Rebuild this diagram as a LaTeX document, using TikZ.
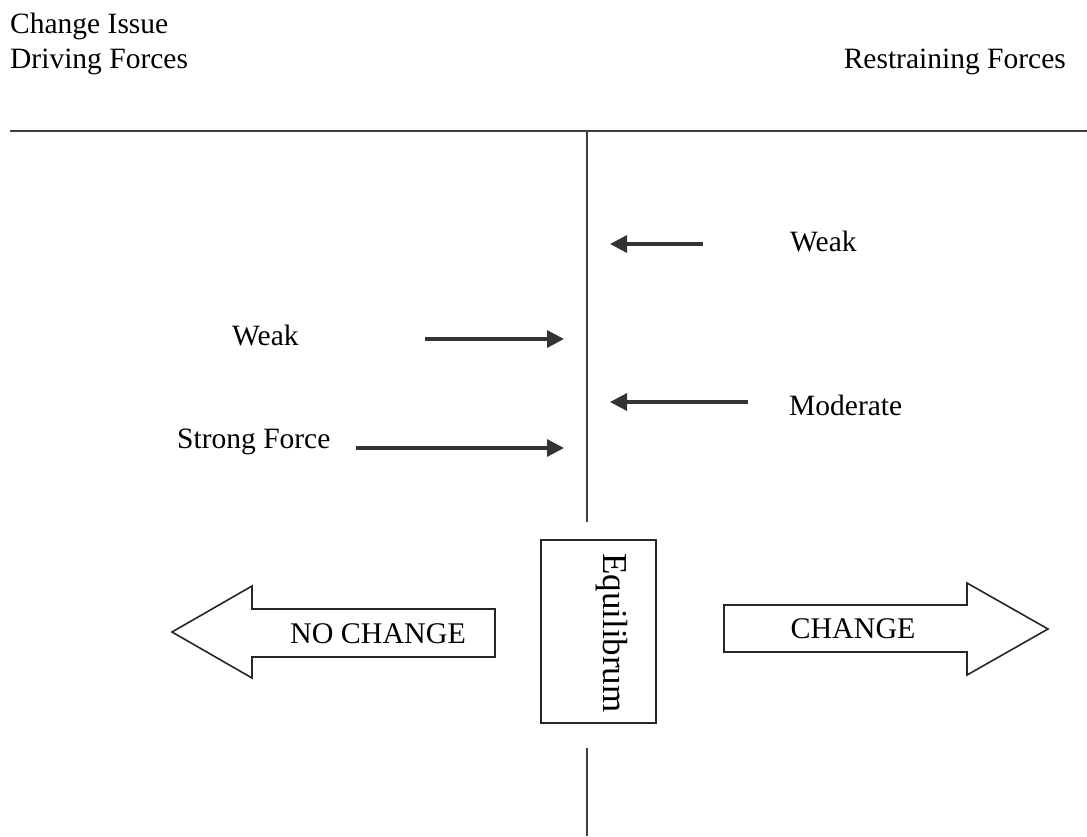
\documentclass[tikz,border=0pt]{standalone}
\usepackage{fontspec}
\setmainfont{Liberation Serif}
\usetikzlibrary{arrows.meta}
\begin{document}
\begin{tikzpicture}[x=1pt,y=-1pt,
  axis/.style={line width=2.5pt,draw=black!75},
  force/.style={line width=3.2pt,draw=black!80,-{Triangle[length=17pt,width=17pt]}},
  lbl/.style={anchor=base west,inner sep=0pt,font=\fontsize{29.5}{33}\selectfont},
  big/.style={line width=1.6pt,draw=black!85,fill=white,line join=miter},
  bigtxt/.style={inner sep=0pt,font=\fontsize{30}{34}\selectfont}]
\useasboundingbox (0,0) rectangle (1087,836);

% headings
\node[lbl] (issue) at (10,33) {Change Issue};
\node[lbl] (driving) at (10,68) {Driving Forces};
\node[lbl,anchor=base east] (restraining) at (1066,68) {Restraining Forces};

% axes
\coordinate (hl) at (10,131);
\coordinate (hr) at (1087,131);
\coordinate (vt) at (587,131);
\coordinate (vm) at (587,522);
\coordinate (vb1) at (587,748);
\coordinate (vb2) at (587,836);
\draw[axis] (hl) -- (hr);
\draw[axis] (vt) -- (vm);
\draw[axis] (vb1) -- (vb2);

% restraining forces
\node[lbl] (rweak) at (790,251) {Weak};
\coordinate (r1s) at (703,244);
\coordinate (r1e) at (610,244);
\draw[force] (r1s) -- (r1e);
\node[lbl] (rmod) at (789,415) {Moderate};
\coordinate (r2s) at (748,402);
\coordinate (r2e) at (610,402);
\draw[force] (r2s) -- (r2e);

% driving forces
\node[lbl] (dweak) at (232,345) {Weak};
\coordinate (d1s) at (425,339);
\coordinate (d1e) at (564,339);
\draw[force] (d1s) -- (d1e);
\node[lbl] (dstrong) at (177,448) {Strong Force};
\coordinate (d2s) at (356,448);
\coordinate (d2e) at (564,448);
\draw[force] (d2s) -- (d2e);

% equilibrium box
\draw[big] (541,540) rectangle (656,723);
\node[inner sep=0pt,anchor=base west,rotate=-90,font=\fontsize{35}{38}\selectfont]
  (eq) at (603,553) {Equilibrum};

% block arrows
\draw[big] (172,632) -- (252,586) -- (252,609) -- (495,609) -- (495,657)
  -- (252,657) -- (252,678) -- cycle;
\node[bigtxt,anchor=base] (nochange) at (378,643) {NO CHANGE};
\draw[big] (724,605) -- (967,605) -- (967,583) -- (1048,629) -- (967,675)
  -- (967,652) -- (724,652) -- cycle;
\node[bigtxt,anchor=base] (change) at (853,638) {CHANGE};
\end{tikzpicture}
\end{document}
